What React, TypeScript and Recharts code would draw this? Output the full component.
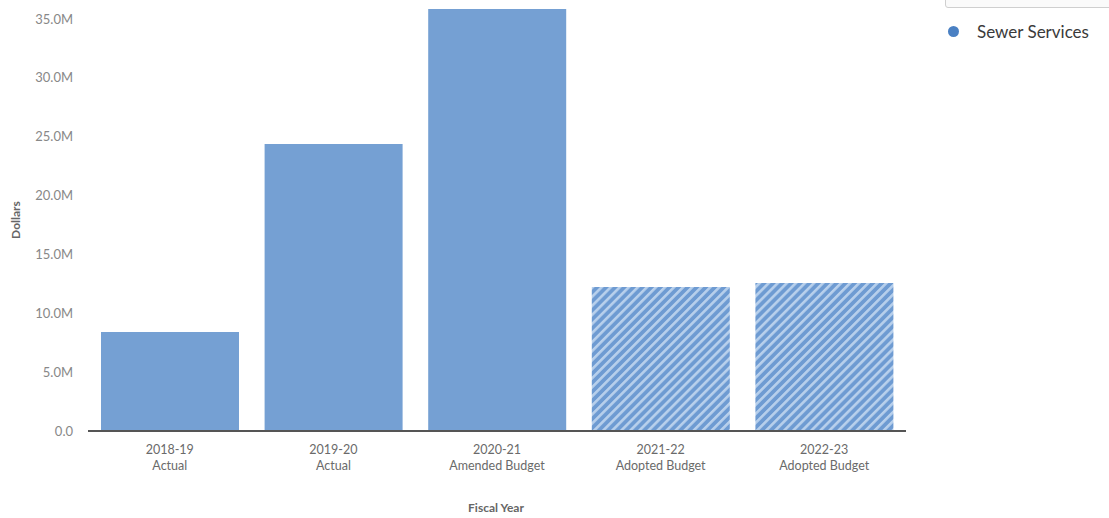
import { BarChart, Bar, XAxis, YAxis, Cell, Label } from 'recharts';

const years = ['2018-19', '2019-20', '2020-21', '2021-22', '2022-23'];
const stages = ['Actual', 'Actual', 'Amended Budget', 'Adopted Budget', 'Adopted Budget'];
const sewerServices = [8.41e6, 24.38e6, 35.85e6, 12.23e6, 12.57e6];
const yTicks = [0, 5e6, 10e6, 15e6, 20e6, 25e6, 30e6, 35e6];

const data = years.map((y, i) => ({ name: y, stage: stages[i], value: sewerServices[i] }));

const fmt = (v: number) => (v === 0 ? '0.0' : (v / 1e6).toFixed(1) + 'M');

const FONT = 'Lato, "Open Sans", sans-serif';

function YearTick(props: any) {
  const { x, y, payload, index } = props;
  return (
    <g transform={`translate(${x},${y})`}>
      <text x={0} y={15} textAnchor="middle" fill="#6a6a6a" fontSize={12.5} fontFamily={FONT}>
        {payload.value}
      </text>
      <text x={0} y={31} textAnchor="middle" fill="#6a6a6a" fontSize={12.5} fontFamily={FONT}>
        {stages[index]}
      </text>
    </g>
  );
}

export default function App() {
  return (
    <div style={{ position: 'fixed', left: 0, top: 0, width: 1109, height: 518, overflow: 'hidden', background: '#fff' }}>
      <BarChart
        width={1109}
        height={518}
        data={data}
        margin={{ top: 0, right: 203, left: 0, bottom: 0 }}
        barCategoryGap={13}
      >
        <defs>
          <pattern id="hatch" patternUnits="userSpaceOnUse" width={6.4} height={6.4} patternTransform="rotate(45)">
            <rect width={6.4} height={6.4} fill="#6e9bd2" />
            <rect width={2.6} height={6.4} fill="#b8d0ec" />
          </pattern>
        </defs>
        <XAxis
          dataKey="name"
          height={87}
          tickLine={false}
          axisLine={{ stroke: '#555', strokeWidth: 2 }}
          tick={<YearTick />}
          interval={0}
        >
          <Label
            content={() => (
              <text x={496} y={512} textAnchor="middle" fill="#666" fontSize={12} fontWeight={700} fontFamily={FONT}>
                Fiscal Year
              </text>
            )}
          />
        </XAxis>
        <YAxis
          width={88}
          domain={[0, 36.61e6]}
          ticks={yTicks}
          tickFormatter={fmt}
          axisLine={false}
          tickLine={false}
          tickMargin={9}
          tick={{ fill: '#888', fontSize: 13, fontFamily: FONT }}
          allowDataOverflow
        >
          <Label
            content={() => (
              <text
                x={20}
                y={220}
                transform="rotate(-90 20 220)"
                textAnchor="middle"
                fill="#666"
                fontSize={12}
                fontWeight={700}
                fontFamily={FONT}
              >
                Dollars
              </text>
            )}
          />
        </YAxis>
        <Bar dataKey="value" isAnimationActive={false}>
          {data.map((d, i) => (
            <Cell key={d.name} fill={i >= 3 ? 'url(#hatch)' : '#75a0d3'} />
          ))}
        </Bar>
      </BarChart>
      <div
        style={{
          position: 'absolute',
          left: 945,
          top: -30,
          width: 175,
          height: 36,
          border: '1px solid #cfcfcf',
          borderRadius: 3,
          background: '#fafafa',
          zIndex: 5,
        }}
      />
      <div
        style={{
          position: 'absolute',
          left: 948,
          top: 21,
          display: 'flex',
          alignItems: 'center',
          fontFamily: FONT,
          fontSize: 17,
          color: '#3a3a3a',
          zIndex: 5,
        }}
      >
        <span style={{ width: 11, height: 11, borderRadius: '50%', background: '#4a80c3', display: 'inline-block', marginRight: 18 }} />
        Sewer Services
      </div>
    </div>
  );
}
